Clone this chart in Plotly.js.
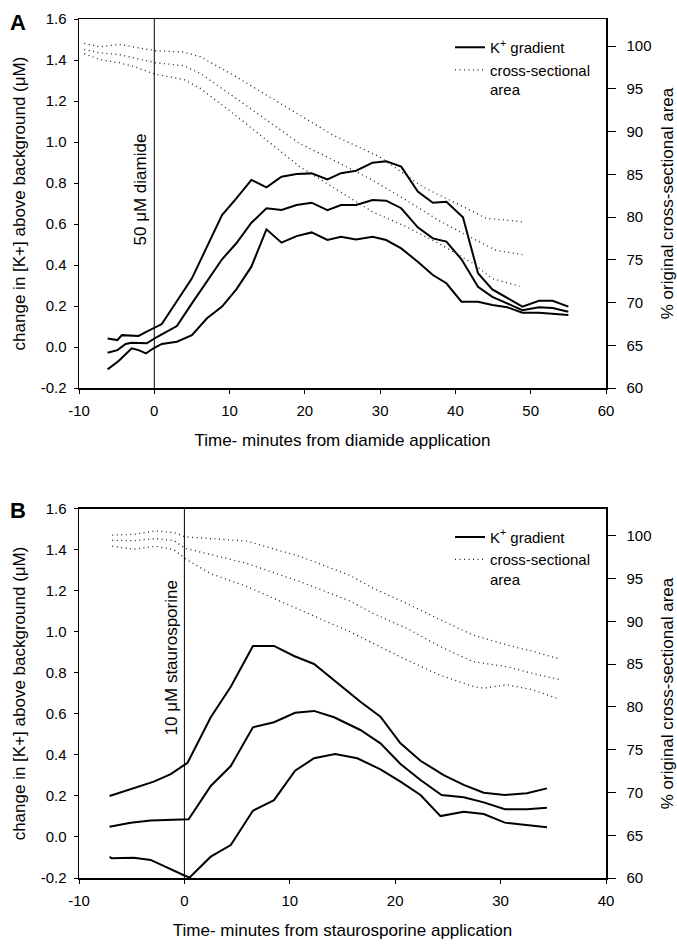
<!DOCTYPE html>
<html>
<head>
<meta charset="utf-8">
<script src="https://cdn.plot.ly/plotly-3.0.1.min.js"></script>
<style>html,body{margin:0;padding:0;background:#fff;}#chart{width:677px;height:944px;}</style>
</head>
<body>
<div id="chart"></div>
<script>
// ---------- Panel A: diamide ----------
const tA_upper = [-6.2, -4.9, -4.3, -2.1, -1.0, -0.1, 1.0, 5.0, 9.0, 10.9, 12.9, 14.9, 16.9, 18.9, 20.9, 23.0, 24.8, 26.8, 29.0, 30.8, 32.8, 35.0, 37.0, 38.8, 41.0, 43.0, 44.9, 48.9, 51.1, 52.9, 55.0];
const kA_upper = [0.042, 0.034, 0.058, 0.054, 0.075, 0.091, 0.112, 0.335, 0.644, 0.725, 0.815, 0.779, 0.831, 0.844, 0.847, 0.818, 0.848, 0.86, 0.899, 0.906, 0.88, 0.758, 0.704, 0.709, 0.633, 0.36, 0.281, 0.197, 0.226, 0.226, 0.197];
const tA_mid = [-6.2, -4.9, -3.8, -3.0, -1.0, 0.4, 3.0, 5.0, 9.0, 10.9, 12.9, 14.9, 16.9, 18.9, 20.9, 23.0, 24.8, 26.8, 29.0, 30.8, 32.8, 35.0, 37.0, 38.8, 40.8, 43.0, 44.9, 48.9, 51.1, 52.9, 55.0];
const kA_mid = [-0.028, -0.015, 0.015, 0.021, 0.018, 0.05, 0.102, 0.213, 0.428, 0.506, 0.606, 0.677, 0.668, 0.693, 0.704, 0.668, 0.693, 0.693, 0.717, 0.714, 0.677, 0.584, 0.53, 0.514, 0.428, 0.294, 0.245, 0.18, 0.194, 0.19, 0.172];
const tA_low = [-6.2, -4.7, -3.0, -2.1, -1.1, -0.1, 1.0, 3.0, 5.0, 7.0, 9.0, 10.9, 12.9, 14.9, 16.9, 18.9, 20.9, 23.0, 24.8, 26.8, 29.0, 30.8, 32.8, 35.0, 37.0, 38.8, 40.8, 43.0, 44.9, 46.9, 48.9, 51.1, 55.0];
const kA_low = [-0.109, -0.067, -0.006, -0.015, -0.031, -0.006, 0.015, 0.026, 0.058, 0.14, 0.197, 0.281, 0.392, 0.574, 0.509, 0.541, 0.559, 0.522, 0.538, 0.525, 0.538, 0.522, 0.481, 0.416, 0.351, 0.311, 0.221, 0.221, 0.205, 0.194, 0.167, 0.167, 0.156];

const tA_areaTop = [-9.3, -7.2, -4.7, 0.1, 3.9, 6.1, 10.5, 14.9, 19.3, 23.7, 29.9, 35.7, 40.1, 44.1, 48.9];
const aA_areaTop = [100.3, 99.9, 100.2, 99.45, 99.3, 98.75, 96.6, 94.3, 91.9, 89.6, 87.05, 83.5, 81.6, 79.85, 79.45];
const tA_areaMid = [-9.3, -7.2, -4.7, 0.1, 3.9, 6.1, 10.5, 14.9, 19.3, 23.7, 29.0, 33.4, 37.8, 42.3, 45.4, 48.9];
const aA_areaMid = [99.6, 99.2, 99.0, 98.05, 97.7, 96.8, 94.1, 91.35, 88.6, 86.7, 84.3, 82.0, 79.6, 77.5, 76.1, 75.6];
const tA_areaLow = [-9.3, -7.2, -4.7, -2.7, 0.1, 3.9, 6.1, 10.5, 14.9, 19.3, 23.7, 29.0, 33.4, 37.8, 42.3, 44.9, 48.5];
const aA_areaLow = [99.1, 98.4, 98.05, 97.6, 96.7, 96.1, 95.05, 92.1, 89.0, 85.9, 83.5, 80.6, 78.9, 76.9, 74.6, 72.8, 71.9];

// ---------- Panel B: staurosporine ----------
const tB_upper = [-7.1, -4.8, -2.9, -1.3, 0.3, 2.5, 4.4, 6.5, 8.5, 10.4, 12.3, 16.7, 18.6, 20.5, 22.4, 24.6, 26.5, 28.4, 30.4, 32.5, 34.4];
const kB_upper = [0.2, 0.237, 0.27, 0.307, 0.362, 0.584, 0.733, 0.932, 0.932, 0.883, 0.844, 0.66, 0.587, 0.457, 0.372, 0.302, 0.254, 0.216, 0.205, 0.213, 0.237];
const tB_mid = [-7.1, -5.1, -3.2, 0.4, 2.5, 4.4, 6.5, 8.5, 10.5, 12.3, 14.2, 16.7, 18.6, 20.5, 22.4, 24.4, 26.5, 28.4, 30.4, 32.5, 34.4];
const kB_mid = [0.05, 0.07, 0.08, 0.086, 0.249, 0.346, 0.535, 0.56, 0.606, 0.615, 0.584, 0.522, 0.457, 0.356, 0.278, 0.205, 0.194, 0.169, 0.135, 0.135, 0.143];
const tB_low = [-7.1, -6.9, -4.8, -3.2, 0.1, 0.5, 2.5, 4.4, 6.5, 8.5, 10.5, 12.3, 14.3, 16.4, 18.6, 20.5, 22.4, 24.3, 26.5, 28.4, 30.4, 32.5, 34.4];
const kB_low = [-0.096, -0.104, -0.101, -0.112, -0.19, -0.197, -0.096, -0.039, 0.128, 0.18, 0.323, 0.384, 0.405, 0.384, 0.33, 0.27, 0.205, 0.102, 0.123, 0.112, 0.07, 0.059, 0.047];

const tB_areaTop = [-6.85, -4.8, -2.75, -1.0, 0.1, 5.9, 11.0, 15.7, 17.9, 21.1, 24.3, 27.4, 30.6, 33.1, 35.6];
const aB_areaTop = [100.1, 100.2, 100.6, 100.4, 99.9, 99.4, 97.6, 95.4, 93.9, 92.1, 90.2, 88.4, 87.25, 86.5, 85.6];
const tB_areaMid = [-6.85, -4.8, -2.75, -1.0, 0.1, 5.9, 11.0, 15.7, 17.9, 21.1, 24.3, 27.4, 29.0, 30.6, 33.1, 35.6];
const aB_areaMid = [99.5, 99.45, 99.7, 99.45, 98.55, 96.8, 94.65, 92.4, 90.95, 89.2, 87.05, 85.3, 85.0, 84.7, 83.9, 83.2];
const tB_areaLow = [-6.85, -4.8, -2.75, -1.0, 0.25, 2.5, 5.9, 11.0, 15.7, 17.9, 21.1, 24.3, 27.4, 28.4, 30.6, 33.1, 35.6];
const aB_areaLow = [98.8, 98.45, 98.8, 98.4, 97.2, 95.6, 94.1, 91.35, 88.8, 87.45, 85.5, 83.7, 82.4, 82.2, 82.6, 82.0, 80.9];

// ---------- Tick labels and texts ----------
const xTicksA = [-10, 0, 10, 20, 30, 40, 50, 60];
const xTickTextA = ['-10', '0', '10', '20', '30', '40', '50', '60'];
const xTicksB = [-10, 0, 10, 20, 30, 40];
const xTickTextB = ['-10', '0', '10', '20', '30', '40'];
const yTicksLeft = [-0.2, 0, 0.2, 0.4, 0.6, 0.8, 1.0, 1.2, 1.4, 1.6];
const yTickTextLeft = ['-0.2', '0.0', '0.2', '0.4', '0.6', '0.8', '1.0', '1.2', '1.4', '1.6'];
const yTicksRight = [60, 65, 70, 75, 80, 85, 90, 95, 100];

const legendSolid = 'K<sup>+</sup> gradient';
const legendDotted = 'cross-sectional<br>area';
const xTitleA = 'Time- minutes from diamide application';
const xTitleB = 'Time- minutes from staurosporine application';
const yTitleLeft = 'change in [K+] above background (\u03BCM)';
const yTitleRight = '% original cross-sectional area';
const labelA = '50 \u03BCM diamide';
const labelB = '10 \u03BCM staurosporine';

const FONT = 'Liberation Sans, Arial, Helvetica, sans-serif';
const solid = {color: '#000', width: 2};
const dotted = {color: '#222', width: 1.3, dash: '1px,3.5px'};

function tr(x, y, xa, ya, line, name, show, leg) {
  return {x: x, y: y, xaxis: xa, yaxis: ya, type: 'scatter', mode: 'lines',
          line: line, name: name, showlegend: show, legend: leg, hoverinfo: 'skip'};
}

const data = [
  tr(tA_upper, kA_upper, 'x', 'y', solid, legendSolid, true, 'legend'),
  tr(tA_mid, kA_mid, 'x', 'y', solid, legendSolid, false, 'legend'),
  tr(tA_low, kA_low, 'x', 'y', solid, legendSolid, false, 'legend'),
  tr(tA_areaTop, aA_areaTop, 'x', 'y2', dotted, legendDotted, true, 'legend'),
  tr(tA_areaMid, aA_areaMid, 'x', 'y2', dotted, legendDotted, false, 'legend'),
  tr(tA_areaLow, aA_areaLow, 'x', 'y2', dotted, legendDotted, false, 'legend'),
  tr(tB_upper, kB_upper, 'x2', 'y3', solid, legendSolid, true, 'legend2'),
  tr(tB_mid, kB_mid, 'x2', 'y3', solid, legendSolid, false, 'legend2'),
  tr(tB_low, kB_low, 'x2', 'y3', solid, legendSolid, false, 'legend2'),
  tr(tB_areaTop, aB_areaTop, 'x2', 'y4', dotted, legendDotted, true, 'legend2'),
  tr(tB_areaMid, aB_areaMid, 'x2', 'y4', dotted, legendDotted, false, 'legend2'),
  tr(tB_areaLow, aB_areaLow, 'x2', 'y4', dotted, legendDotted, false, 'legend2')
];

const tickFont = {family: FONT, size: 15, color: '#000'};
const titleFont = {family: FONT, size: 17, color: '#000'};

function xax(anchor, range, tv, tt, title) {
  return {domain: [0, 1], anchor: anchor, range: range, tickmode: 'array', tickvals: tv, ticktext: tt,
    showgrid: false, zeroline: false, showline: true, linecolor: '#000', linewidth: 1.5,
    mirror: true, ticks: 'outside', ticklen: 4, tickwidth: 1, tickcolor: '#000',
    tickfont: tickFont, ticklabelstandoff: 4,
    title: {text: title, font: titleFont, standoff: 16}, automargin: false};
}
function yleft(domain, anchor) {
  return {domain: domain, anchor: anchor, range: [-0.2, 1.6], tickmode: 'array',
    tickvals: yTicksLeft, ticktext: yTickTextLeft,
    showgrid: false, zeroline: false, showline: true, linecolor: '#000',
    linewidth: 1.5, ticks: 'outside', ticklen: 4, tickwidth: 1, tickcolor: '#000',
    tickfont: tickFont, ticklabelstandoff: 4,
    title: {text: yTitleLeft, font: titleFont, standoff: 10}, automargin: false};
}
function yright(overlay, anchor) {
  return {overlaying: overlay, anchor: anchor, side: 'right', range: [60, 103.16],
    tickmode: 'array', tickvals: yTicksRight,
    showgrid: false, zeroline: false, showline: true, linecolor: '#000', linewidth: 1.5,
    ticks: 'outside', ticklen: 8, tickwidth: 1, tickcolor: '#000',
    tickfont: tickFont, ticklabelstandoff: 8,
    title: {text: yTitleRight, font: titleFont, standoff: 10}, automargin: false};
}

const legendBase = {xanchor: 'left', yanchor: 'top', bgcolor: 'rgba(0,0,0,0)',
  borderwidth: 0, font: {family: FONT, size: 15, color: '#000'}, valign: 'top',
  tracegroupgap: 0, itemwidth: 30};

const layout = {
  width: 677, height: 944,
  margin: {l: 79, r: 71, t: 19, b: 66, pad: 0},
  paper_bgcolor: '#fff', plot_bgcolor: '#fff',
  font: {family: FONT, color: '#000'},
  showlegend: true,
  xaxis: xax('y', [-10, 60], xTicksA, xTickTextA, xTitleA),
  yaxis: yleft([0.5704, 1], 'x'),
  yaxis2: yright('y', 'x'),
  xaxis2: xax('y3', [-10, 40], xTicksB, xTickTextB, xTitleB),
  yaxis3: yleft([0, 0.4296], 'x2'),
  yaxis4: yright('y3', 'x2'),
  legend: Object.assign({}, legendBase, {x: 0.704, y: 0.986}),
  legend2: Object.assign({}, legendBase, {x: 0.704, y: 0.416}),
  shapes: [
    {type: 'line', xref: 'x', yref: 'y domain', x0: 0, x1: 0, y0: 0, y1: 1, line: {color: '#000', width: 1}},
    {type: 'line', xref: 'x2', yref: 'y3 domain', x0: 0, x1: 0, y0: 0, y1: 1, line: {color: '#000', width: 1}}
  ],
  annotations: [
    {text: labelA, xref: 'x', yref: 'y', x: 0, y: 0.77, xshift: -14, textangle: -90,
     showarrow: false, xanchor: 'center', yanchor: 'middle', font: {family: FONT, size: 17, color: '#000'}},
    {text: labelB, xref: 'x2', yref: 'y3', x: 0, y: 0.873, xshift: -13, textangle: -90,
     showarrow: false, xanchor: 'center', yanchor: 'middle', font: {family: FONT, size: 17, color: '#000'}},
    {text: '<b>A</b>', xref: 'paper', yref: 'paper', x: -0.1157, y: 0.9965, showarrow: false,
     xanchor: 'center', yanchor: 'middle', font: {family: FONT, size: 22, color: '#000'}},
    {text: '<b>B</b>', xref: 'paper', yref: 'paper', x: -0.1157, y: 0.4284, showarrow: false,
     xanchor: 'center', yanchor: 'middle', font: {family: FONT, size: 22, color: '#000'}}
  ]
};

Plotly.newPlot('chart', data, layout, {staticPlot: true, displayModeBar: false});
</script>
</body>
</html>
